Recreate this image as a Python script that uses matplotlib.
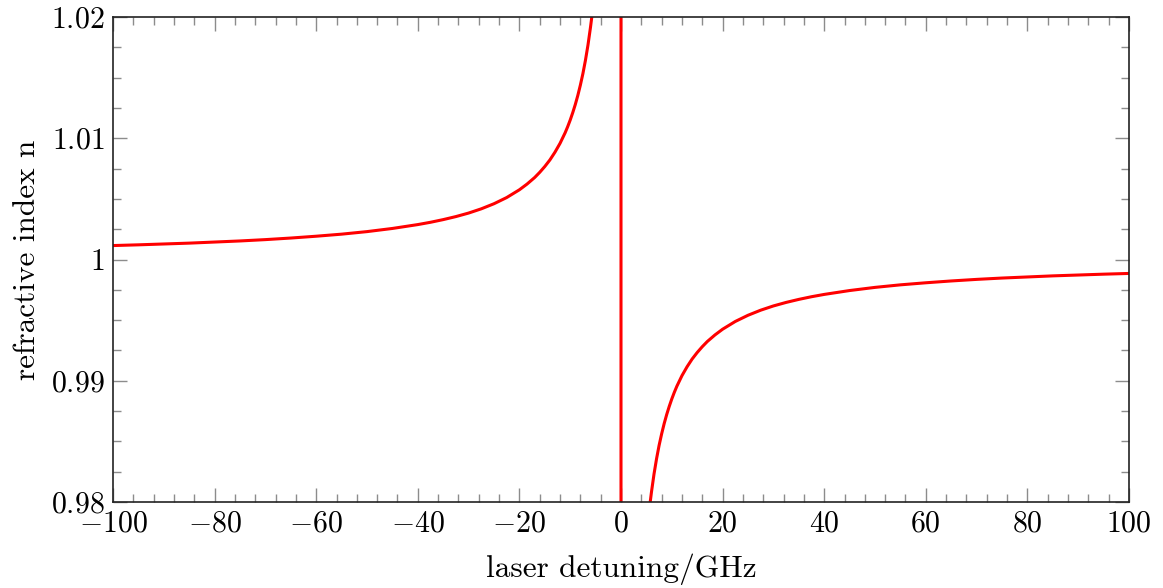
import matplotlib
matplotlib.use("Agg")
import matplotlib.pyplot as plt
from matplotlib.ticker import FixedLocator, FixedFormatter, MultipleLocator

# detuning (GHz) and refractive index
left_x = [-100, -95, -90, -85, -80, -75, -70, -65, -60, -55, -50, -45, -40,
          -37.5, -35, -32.5, -30, -27.5, -25, -22.5, -20, -18.5, -17, -16,
          -15, -14, -13, -12, -11, -10.5, -10, -9.5, -9, -8.5, -8, -7.5, -7,
          -6.5, -6, -5.75, -5.5, -0.001]
left_n = [1.00115, 1.00121, 1.00128, 1.00135, 1.00144, 1.00153, 1.00164,
          1.00177, 1.00192, 1.00209, 1.0023, 1.00256, 1.00288, 1.00307,
          1.00329, 1.00354, 1.00383, 1.00418, 1.0046, 1.00511, 1.00575,
          1.00622, 1.00676, 1.00719, 1.00767, 1.00821, 1.00885, 1.00958,
          1.01045, 1.01095, 1.0115, 1.01211, 1.01278, 1.01353, 1.01438,
          1.01533, 1.01643, 1.01769, 1.01917, 1.02, 1.0209, 116.0]
right_x = [0.001, 5.5, 5.75, 6, 6.5, 7, 7.5, 8, 8.5, 9, 9.5, 10, 10.5, 11, 12,
           13, 14, 15, 16, 17, 18.5, 20, 22.5, 25, 27.5, 30, 32.5, 35, 37.5,
           40, 45, 50, 55, 60, 65, 70, 75, 80, 85, 90, 95, 100]
right_n = [-114.0, 0.9791, 0.98, 0.98083, 0.98231, 0.98357, 0.98467, 0.98562,
           0.98647, 0.98722, 0.98789, 0.9885, 0.98905, 0.98955, 0.99042,
           0.99115, 0.99179, 0.99233, 0.99281, 0.99324, 0.99378, 0.99425,
           0.99489, 0.9954, 0.99582, 0.99617, 0.99646, 0.99671, 0.99693,
           0.99712, 0.99744, 0.9977, 0.99791, 0.99808, 0.99823, 0.99836,
           0.99847, 0.99856, 0.99865, 0.99872, 0.99879, 0.99885]

x_ticks = [-100, -80, -60, -40, -20, 0, 20, 40, 60, 80, 100]
y_ticks = [0.98, 0.99, 1.0, 1.01, 1.02]
y_labels = ["0.98", "0.99", "1", "1.01", "1.02"]

plt.rcParams["mathtext.fontset"] = "cm"
plt.rcParams["font.family"] = "serif"
plt.rcParams["font.serif"] = ["cmr10", "DejaVu Serif"]
plt.rcParams["axes.formatter.use_mathtext"] = True

fig = plt.figure(figsize=(11.63, 5.88), dpi=100)
ax = fig.add_axes([113 / 1163, 86 / 588, 1016 / 1163, 485 / 588])

ax.plot(left_x + right_x, left_n + right_n, color="red", lw=2.2,
        solid_joinstyle="round")

ax.set_xlim(-100, 100)
ax.set_ylim(0.98, 1.02)

ax.xaxis.set_major_locator(FixedLocator(x_ticks))
ax.xaxis.set_major_formatter(FixedFormatter([f"${v}$" for v in x_ticks]))
ax.xaxis.set_minor_locator(MultipleLocator(4))
ax.yaxis.set_major_locator(FixedLocator(y_ticks))
ax.yaxis.set_major_formatter(FixedFormatter([f"${v}$" for v in y_labels]))
ax.yaxis.set_minor_locator(MultipleLocator(0.0025))

ax.tick_params(which="both", direction="in", top=True, right=True,
               color="#8c8c8c", labelsize=21.5, width=1.0)
ax.tick_params(which="major", length=10, pad=6)
ax.tick_params(which="minor", length=6)
for s in ax.spines.values():
    s.set_color("#222222")
    s.set_linewidth(1.2)

ax.set_xlabel("laser detuning/GHz", fontsize=22.5, labelpad=11)
ax.set_ylabel("refractive index n", fontsize=22.5, labelpad=7)

fig.savefig("out.png", dpi=100)
